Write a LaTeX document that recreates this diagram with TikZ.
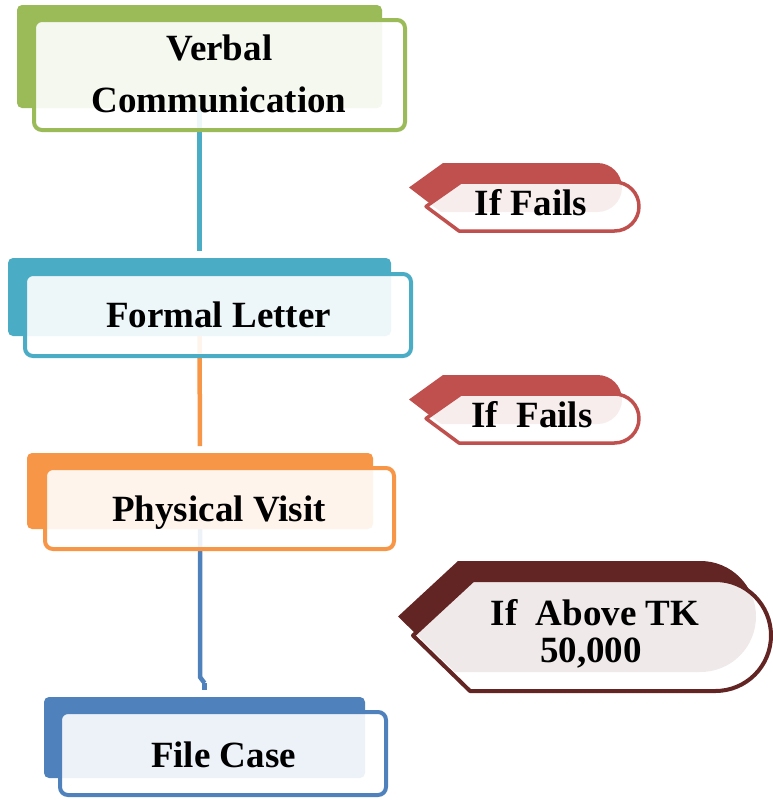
\documentclass[tikz,border=0pt]{standalone}
\usepackage{fontspec}
\setmainfont{Liberation Serif}
\definecolor{cgreen}{HTML}{9BBB59}
\definecolor{cblue}{HTML}{4BACC6}
\definecolor{corange}{HTML}{F79646}
\definecolor{cblueb}{HTML}{4F81BD}
\definecolor{cred}{HTML}{C0504D}
\definecolor{cmaroon}{HTML}{632523}
\pgfdeclarelayer{bg}
\pgfsetlayers{bg,main}
\begin{document}
\begin{tikzpicture}[x=1pt,y=-1pt,
  backbox/.style={fill=#1, draw=none, rounded corners=5pt, inner sep=0pt, outer sep=0pt},
  frontbox/.style={draw=#1, line width=4pt, fill=white, fill opacity=0.9, rounded corners=8pt, inner sep=0pt, outer sep=0pt},
  lbl/.style={font=\fontsize{37}{44}\selectfont\bfseries, anchor=base, inner sep=0pt, text=black},
  conn/.style={draw=#1, line width=4.5pt},
  callfront/.style={draw=#1, line width=3.5pt, fill=white, fill opacity=0.9, line join=round}]
\useasboundingbox (0,0) rectangle (773,801);

% back boxes
\node[backbox=cgreen, minimum width=365pt, minimum height=103pt] (b1) at (199.5,56.5) {};
\node[backbox=cblue, minimum width=383pt, minimum height=78pt] (b2) at (199.5,297) {};
\node[backbox=corange, minimum width=346pt, minimum height=76pt] (b3) at (200,491) {};
\node[backbox=cblueb, minimum width=321pt, minimum height=81pt] (b4) at (204.5,737.5) {};

% front boxes
\node[frontbox=cgreen, minimum width=371pt, minimum height=110pt] (f1) at (219.5,75) {};
\node[frontbox=cblue, minimum width=386pt, minimum height=82pt] (f2) at (218,315) {};
\node[frontbox=corange, minimum width=349pt, minimum height=81pt] (f3) at (219.5,508.5) {};
\node[frontbox=cblueb, minimum width=326pt, minimum height=83pt] (f4) at (223,753.5) {};

% connectors under everything
\coordinate (j3a) at (200,677);
\coordinate (j3b) at (204.5,683);
\begin{pgfonlayer}{bg}
\draw[conn=cblue, shorten >=7pt] (b1.south) -- (b2.north);
\draw[conn=corange, shorten >=7pt] (b2.south) -- (b3.north);
\draw[conn=cblueb] (b3.south) -- (j3a) -- (j3b);
\draw[conn=cblueb, shorten >=7pt] (j3b) -- (b4.north);
\end{pgfonlayer}

% callout 1
\fill[cred] (409,187.5) -- (443,163) -- (597.5,163) arc[start angle=-90, end angle=90, radius=24.5] -- (441,212) -- cycle;
\draw[callfront=cred] (426,206.5) -- (461,182) -- (614.5,182) arc[start angle=-90, end angle=90, radius=24.5] -- (459,231) -- cycle;
% callout 2
\begin{scope}[shift={(0,212)}]
\fill[cred] (409,187.5) -- (443,163) -- (597.5,163) arc[start angle=-90, end angle=90, radius=24.5] -- (441,212) -- cycle;
\draw[callfront=cred] (426,206.5) -- (461,182) -- (614.5,182) arc[start angle=-90, end angle=90, radius=24.5] -- (459,231) -- cycle;
\end{scope}
% callout 3
\fill[cmaroon] (398,616.5) -- (458,561) -- (700.5,561) arc[start angle=-90, end angle=90, radius=55.5] -- (455,672) -- cycle;
\draw[callfront=cmaroon, line width=4pt] (413,635.5) -- (473,580) -- (715.5,580) arc[start angle=-90, end angle=90, radius=55.5] -- (470,691) -- cycle;

% texts
\node[lbl] (t1a) at (219.5,60) {Verbal};
\node[lbl] (t1b) at (219,112) {Communication};
\node[lbl] (t2) at (218.5,327) {Formal Letter};
\node[lbl] (t3) at (219,521) {Physical Visit};
\node[lbl] (t4) at (223.5,767) {File Case};
\node[lbl] (c1t) at (531,215) {If Fails};
\node[lbl] (c2t) at (532,427) {If\ \ Fails};
\node[lbl] (c3a) at (595,625) {If\ \ Above TK};
\node[lbl] (c3b) at (591,662) {50,000};
\end{tikzpicture}
\end{document}
